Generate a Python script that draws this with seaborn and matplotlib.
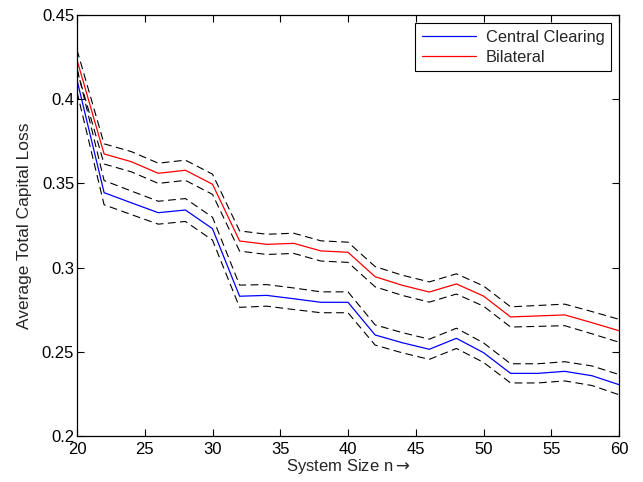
import numpy as np
import pandas as pd
import matplotlib
matplotlib.use("Agg")
import matplotlib.pyplot as plt
import seaborn as sns

system_size = [20, 22, 24, 26, 28, 30, 32, 34, 36, 38, 40, 42, 44, 46, 48, 50, 52, 54, 56, 58, 60]
central_clearing = [0.4114, 0.3445, 0.3385, 0.3326, 0.3342, 0.3231, 0.2830, 0.2835, 0.2815, 0.2794, 0.2794,
                    0.2600, 0.2554, 0.2515, 0.2580, 0.2495, 0.2372, 0.2372, 0.2384, 0.2358, 0.2305]
bilateral = [0.4233, 0.3675, 0.3629, 0.3560, 0.3578, 0.3495, 0.3158, 0.3138, 0.3144, 0.3099, 0.3091,
             0.2946, 0.2895, 0.2855, 0.2903, 0.2831, 0.2707, 0.2713, 0.2719, 0.2673, 0.2625]
central_halfwidth = [0.0070, 0.0072, 0.0070, 0.0068, 0.0068, 0.0068, 0.0066, 0.0064, 0.0064, 0.0062, 0.0062,
                     0.0060, 0.0060, 0.0060, 0.0060, 0.0058, 0.0057, 0.0057, 0.0057, 0.0058, 0.0060]
bilateral_halfwidth = [0.0060, 0.0060, 0.0060, 0.0060, 0.0060, 0.0060, 0.0060, 0.0060, 0.0060, 0.0060, 0.0060,
                       0.0060, 0.0060, 0.0060, 0.0060, 0.0060, 0.0060, 0.0062, 0.0064, 0.0066, 0.0068]

sns.set_theme(style="ticks")
plt.rcParams['font.family'] = ['Liberation Sans', 'DejaVu Sans']
plt.rcParams['font.size'] = 12
plt.rcParams['mathtext.fontset'] = 'dejavusans'

fig = plt.figure(figsize=(6.43, 4.82), dpi=100)
ax = fig.add_axes([77/643, 1 - 436/482, (619 - 77)/643, (436 - 15)/482])

x = np.array(system_size)
for mean, hw in [(central_clearing, central_halfwidth), (bilateral, bilateral_halfwidth)]:
    m = np.array(mean)
    h = np.array(hw)
    for band in (m + h, m - h):
        sns.lineplot(x=x, y=band, ax=ax, color='black', linewidth=0.8,
                     linestyle=(0, (7, 4)), legend=False)

df = pd.DataFrame({
    'n': system_size * 2,
    'loss': central_clearing + bilateral,
    'series': ['Central Clearing'] * len(system_size) + ['Bilateral'] * len(system_size),
})
sns.lineplot(data=df, x='n', y='loss', hue='series', ax=ax,
             palette={'Central Clearing': '#0000ff', 'Bilateral': '#ff0000'},
             linewidth=0.9)

ax.set_xlim(20, 60)
ax.set_ylim(0.2, 0.45)
ax.set_xticks([20, 25, 30, 35, 40, 45, 50, 55, 60])
ax.set_yticks([0.2, 0.25, 0.3, 0.35, 0.4, 0.45])
ax.set_yticklabels(['0.2', '0.25', '0.3', '0.35', '0.4', '0.45'])
ax.tick_params(direction='in', top=True, right=True, length=5, width=0.8,
               labelsize=12, colors='black')
ax.tick_params(axis='y', pad=2)
ax.tick_params(axis='x', pad=4)
for s in ax.spines.values():
    s.set_linewidth(0.9)
    s.set_color('black')
    s.set_visible(True)

ax.set_xlabel('System Size n$\\rightarrow$', fontsize=12, labelpad=0)
ax.set_ylabel('Average Total Capital Loss', fontsize=12.5, labelpad=7)

leg = ax.legend(loc='upper right', fontsize=11.8, frameon=True, fancybox=False,
                edgecolor='black', framealpha=1, handlelength=3.3, borderpad=0.4,
                labelspacing=0.3, borderaxespad=0.5, handletextpad=0.6)
leg.get_frame().set_linewidth(0.8)
leg.set_title(None)

fig.savefig('out.png', dpi=100)
